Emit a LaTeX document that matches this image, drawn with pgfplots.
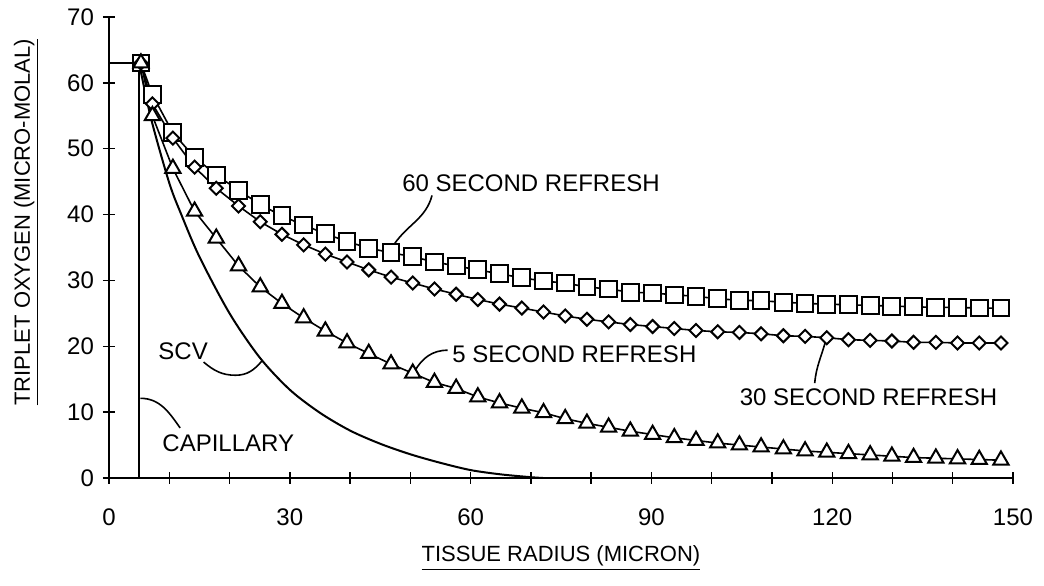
\documentclass[border=0pt]{standalone}
\usepackage{fontspec}
\setmainfont{Liberation Sans}
\usepackage{pgfplots}
\pgfplotsset{compat=1.18}
\pgfplotstableread{
x y
5.3 63
7.2 58.2
10.6 52.4
14.2 48.7
17.8 46.0
21.5 43.7
25.1 41.5
28.7 39.8
32.3 38.4
35.9 37.1
39.5 35.9
43.1 34.9
46.8 34.2
50.4 33.6
54.0 32.8
57.6 32.2
61.2 31.6
64.8 31.0
68.5 30.4
72.1 29.9
75.7 29.6
79.3 29.0
82.9 28.7
86.5 28.2
90.2 28.1
93.8 27.8
97.4 27.6
101.0 27.2
104.6 27.0
108.2 26.9
111.9 26.7
115.5 26.5
119.1 26.4
122.7 26.3
126.3 26.2
129.9 26.1
133.5 26.0
137.2 25.9
140.8 25.9
144.4 25.8
148.0 25.8
}\sixty
\pgfplotstableread{
x y
5.3 63
7.2 56.8
10.6 51.6
14.2 47.2
17.8 44.0
21.5 41.3
25.1 38.9
28.7 37.0
32.3 35.4
35.9 34.0
39.5 32.8
43.1 31.6
46.8 30.5
50.4 29.6
54.0 28.7
57.6 27.9
61.2 27.1
64.8 26.4
68.5 25.8
72.1 25.2
75.7 24.6
79.3 24.1
82.9 23.7
86.5 23.3
90.2 23.0
93.8 22.7
97.4 22.4
101.0 22.2
104.6 22.1
108.2 21.9
111.9 21.6
115.5 21.5
119.1 21.3
122.7 21.0
126.3 20.9
129.9 20.8
133.5 20.6
137.2 20.6
140.8 20.5
144.4 20.5
148.0 20.5
}\thirty
\pgfplotstableread{
x y
5.3 63
7.2 55.0
10.6 47.0
14.2 40.5
17.8 36.4
21.5 32.2
25.1 29.0
28.7 26.5
32.3 24.3
35.9 22.3
39.5 20.5
43.1 18.9
46.8 17.3
50.4 15.9
54.0 14.5
57.6 13.6
61.2 12.3
64.8 11.4
68.5 10.6
72.1 9.9
75.7 9.0
79.3 8.3
82.9 7.7
86.5 7.1
90.2 6.6
93.8 6.1
97.4 5.7
101.0 5.3
104.6 5.0
108.2 4.7
111.9 4.4
115.5 4.1
119.1 3.9
122.7 3.7
126.3 3.5
129.9 3.3
133.5 3.1
137.2 3.0
140.8 2.9
144.4 2.8
148.0 2.7
}\five
\pgfplotstableread{
x y
5 63
7 54.5
10 44.8
12 40.0
15 33.6
20 25.0
25 18.3
30 13.4
35 9.9
40 7.2
45 5.2
50 3.6
55 2.3
60 1.2
65 0.55
70 0.12
72 0.0
}\scv
\begin{document}
\begin{tikzpicture}
\begin{axis}[name=ax,
  scale only axis, width=452pt, height=230.5pt,
  xmin=0, xmax=150, ymin=0, ymax=70,
  axis x line=bottom, axis y line=left,
  axis line style={-, line width=0.8pt},
  xtick={0,10,...,150},
  xticklabels={0,,,30,,,60,,,90,,,120,,,150},
  ytick={0,10,...,70},
  tick align=center, major tick length=6pt,
  tick style={line width=0.7pt, black},
  /pgf/number format/assume math mode=true,
  ticklabel style={font=\fontsize{12}{14}\selectfont},
  xticklabel style={yshift=-9pt},
  yticklabel style={xshift=-1pt},
  xlabel={\underline{TISSUE RADIUS (MICRON)}},
  ylabel={\underline{TRIPLET OXYGEN (MICRO-MOLAL)}},
  label style={font=\fontsize{11}{13}\selectfont},
  xlabel style={at={(axis description cs:0.5,0)}, anchor=base, yshift=-42pt},
  ylabel style={at={(axis description cs:-0.0874,0.555)}, anchor=base},
  clip=false,
]
\addplot[line width=1.3pt, black] coordinates {(0,63) (5,63) (5,0)};
\addplot[smooth, line width=1pt, black] table {\scv};
\addplot[line width=0.8pt, black, mark=square*, mark size=4.2pt,
  mark options={fill=white, line width=1pt}] table {\sixty};
\addplot[line width=0.8pt, black, mark=square*, mark size=2.3pt,
  mark options={fill=white, line width=1pt, rotate=45}] table {\thirty};
\addplot[line width=0.8pt, black, mark=triangle*, mark size=4.4pt,
  mark options={fill=white, line width=1pt}] table {\five};
% annotations
\begin{scope}[font=\fontsize{12}{14}\selectfont]
\node[anchor=west, inner sep=0pt] at (axis cs:48.6,44.8) {60 SECOND REFRESH};
\draw[line width=0.8pt] (axis cs:53.6,42.9) to[out=-105,in=55] (axis cs:47.4,35.6);
\node[anchor=west, inner sep=0pt] at (axis cs:104.6,12.3) {30 SECOND REFRESH};
\draw[line width=0.8pt] (axis cs:117.1,14.4) to[out=85,in=-105] (axis cs:118.9,20.8);
\node[anchor=west, inner sep=0pt] at (axis cs:56.9,18.8) {5 SECOND REFRESH};
\draw[line width=0.8pt] (axis cs:56.2,19.4) to[out=180,in=60] (axis cs:50.7,16.2);
\node[anchor=center, inner sep=0pt] at (axis cs:12.3,19.2) {SCV};
\draw[line width=0.8pt] (axis cs:15.7,17.6) to[out=-40,in=180] (axis cs:21.0,15.6) to[out=0,in=-130] (axis cs:25.4,17.8);
\node[anchor=west, inner sep=0pt] at (axis cs:8.8,5.3) {CAPILLARY};
\draw[line width=0.8pt] (axis cs:5.2,12.1) to[out=0,in=125] (axis cs:11.8,7.6);
\end{scope}
\end{axis}
\pgfresetboundingbox
\path[use as bounding box] ([xshift=-54.5pt,yshift=-54pt]ax.south west) rectangle ([xshift=15.5pt,yshift=8.5pt]ax.north east);
\end{tikzpicture}
\end{document}
